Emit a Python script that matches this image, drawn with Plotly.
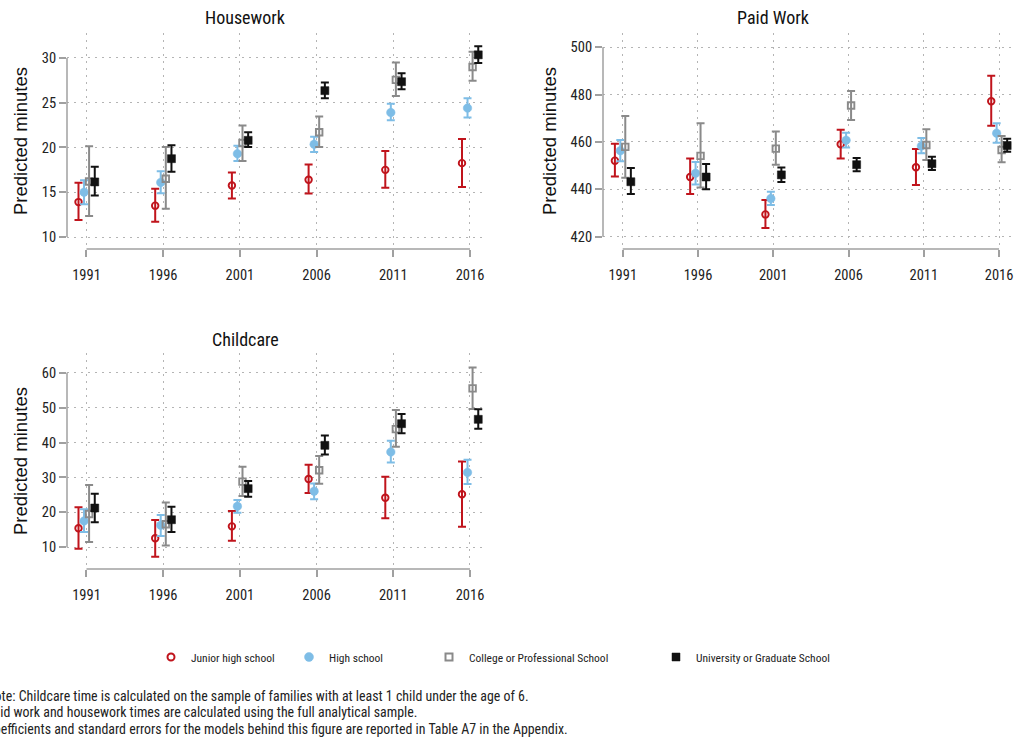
import plotly.graph_objects as go

# ---------------- data ----------------
years = [1991, 1996, 2001, 2006, 2011, 2016]
groups = ["Junior high school", "High school", "College or Professional School", "University or Graduate School"]

# Housework
hw_junior = [13.9, 13.5, 15.75, 16.4, 17.5, 18.25]
hw_junior_lo = [11.9, 11.7, 14.3, 14.85, 15.5, 15.6]
hw_junior_hi = [16.05, 15.4, 17.2, 18.1, 19.6, 20.95]
hw_high = [15.0, 16.1, 19.3, 20.35, 23.9, 24.4]
hw_high_lo = [13.65, 14.9, 18.5, 19.5, 23.05, 23.35]
hw_high_hi = [16.35, 17.35, 20.2, 21.2, 24.9, 25.5]
hw_college = [16.2, 16.5, 20.5, 21.7, 27.55, 29.0]
hw_college_lo = [12.35, 13.15, 18.5, 20.05, 25.75, 27.45]
hw_college_hi = [20.15, 20.05, 22.45, 23.45, 29.5, 30.7]
hw_univ = [16.15, 18.75, 20.8, 26.35, 27.35, 30.35]
hw_univ_lo = [14.65, 17.3, 20.05, 25.5, 26.5, 29.45]
hw_univ_hi = [17.85, 20.25, 21.7, 27.25, 28.3, 31.3]

# Paid work
pw_junior = [452.1, 445.2, 429.4, 459.0, 449.3, 477.2]
pw_junior_lo = [445.4, 438.0, 423.7, 453.0, 441.8, 466.8]
pw_junior_hi = [459.2, 453.0, 435.5, 465.2, 457.0, 488.0]
pw_high = [456.3, 446.8, 436.1, 460.7, 458.3, 463.7]
pw_high_lo = [451.8, 442.0, 433.4, 457.7, 455.2, 459.7]
pw_high_hi = [460.8, 451.5, 439.0, 463.9, 461.7, 467.9]
pw_college = [457.9, 454.1, 457.2, 475.4, 458.7, 456.6]
pw_college_lo = [444.9, 440.8, 450.4, 469.3, 452.4, 451.4]
pw_college_hi = [471.0, 467.9, 464.4, 481.5, 465.4, 462.5]
pw_univ = [443.2, 445.2, 446.1, 450.4, 450.8, 458.5]
pw_univ_lo = [438.0, 440.0, 443.1, 447.6, 448.2, 455.9]
pw_univ_hi = [449.0, 450.7, 449.2, 453.2, 453.8, 461.4]

# Childcare
cc_junior = [15.45, 12.6, 16.0, 29.55, 24.2, 25.2]
cc_junior_lo = [9.6, 7.3, 11.9, 25.55, 18.3, 15.9]
cc_junior_hi = [21.45, 17.8, 20.4, 33.65, 30.2, 34.6]
cc_high = [17.55, 16.3, 21.75, 26.05, 37.3, 31.45]
cc_high_lo = [14.4, 13.25, 19.9, 23.75, 34.25, 28.15]
cc_high_hi = [20.9, 19.25, 23.55, 28.3, 40.5, 35.1]
cc_college = [19.55, 16.6, 28.8, 32.05, 43.85, 55.5]
cc_college_lo = [11.5, 10.5, 24.7, 28.2, 38.8, 49.6]
cc_college_hi = [27.85, 22.8, 33.1, 36.15, 49.3, 61.5]
cc_univ = [21.25, 17.9, 26.8, 39.2, 45.4, 46.65]
cc_univ_lo = [17.15, 14.4, 24.5, 36.55, 42.65, 43.95]
cc_univ_hi = [25.35, 21.65, 29.0, 42.05, 48.15, 49.5]

notes = [
    "Note: Childcare time is calculated on the sample of families with at least 1 child under the age of 6.",
    "Paid work and housework times are calculated using the full analytical sample.",
    "Coefficients and standard errors for the models behind this figure are reported in Table A7 in the Appendix.",
]

# ---------------- styling ----------------
W, H = 1014, 742
NARROW = "Liberation Sans Narrow, Arial Narrow, Roboto Condensed, DejaVu Sans Condensed, sans-serif"
REG = "Liberation Sans, Arial, sans-serif"
offsets = [-0.52, -0.16, 0.17, 0.54]
colors = ["#c0141c", "#7ebde6", "#8a8a8a", "#111111"]
symbols = ["circle-open", "circle", "square-open", "square"]
sizes = [6.5, 8.5, 6.5, 8]
line_w = [1.9, 0.5, 1.9, 0.5]
legend_sizes = [7, 9, 7, 8]
legend_x_px = [151, 289, 429, 656]
GRID = dict(showgrid=True, gridcolor="#b4b4b4", griddash="1.5px,5.5px", gridwidth=1.2)

panels = [
    dict(name="Housework", xa="x", ya="y",
         vals=[(hw_junior, hw_junior_lo, hw_junior_hi), (hw_high, hw_high_lo, hw_high_hi),
               (hw_college, hw_college_lo, hw_college_hi), (hw_univ, hw_univ_lo, hw_univ_hi)],
         xpx=(67, 487), ypx=(33, 249), xr=[1989.73, 2017.11], yr=[8.66, 32.79],
         yticks=[10, 15, 20, 25, 30], title_xy=(245, 18)),
    dict(name="Paid Work", xa="x2", ya="y2",
         vals=[(pw_junior, pw_junior_lo, pw_junior_hi), (pw_high, pw_high_lo, pw_high_hi),
               (pw_college, pw_college_lo, pw_college_hi), (pw_univ, pw_univ_lo, pw_univ_hi)],
         xpx=(603, 1012), ypx=(33, 249), xr=[1989.69, 2016.86], yr=[414.8, 506.0],
         yticks=[420, 440, 460, 480, 500], title_xy=(773, 18)),
    dict(name="Childcare", xa="x3", ya="y3",
         vals=[(cc_junior, cc_junior_lo, cc_junior_hi), (cc_high, cc_high_lo, cc_high_hi),
               (cc_college, cc_college_lo, cc_college_hi), (cc_univ, cc_univ_lo, cc_univ_hi)],
         xpx=(67, 487), ypx=(353, 569), xr=[1989.73, 2017.11], yr=[3.79, 65.64],
         yticks=[10, 20, 30, 40, 50, 60], title_xy=(245, 339)),
]

fig = go.Figure()
layout = dict(
    width=W, height=H, margin=dict(l=0, r=0, t=0, b=0),
    paper_bgcolor="white", plot_bgcolor="white",
    font=dict(family=NARROW, size=14, color="#222222"),
    showlegend=True,
)
annotations = []
shapes = []

for pi, p in enumerate(panels):
    for gi, g in enumerate(groups):
        pt, lo, hi = p["vals"][gi]
        xs = [y + offsets[gi] for y in years]
        fig.add_trace(go.Scatter(
            x=xs, y=pt, mode="markers", name=g,
            xaxis=p["xa"], yaxis=p["ya"],
            showlegend=False,
            marker=dict(symbol=symbols[gi], size=sizes[gi], color=colors[gi],
                        line=dict(width=line_w[gi], color=colors[gi])),
            error_y=dict(type="data", symmetric=False,
                         array=[h - v for h, v in zip(hi, pt)],
                         arrayminus=[v - l for v, l in zip(pt, lo)],
                         color=colors[gi], thickness=2, width=4),
            hoverinfo="x+y",
        ))
    suffix = "" if pi == 0 else str(pi + 1)
    x0, x1 = p["xpx"]
    ytop, ybot = p["ypx"]
    layout["xaxis" + suffix] = dict(
        domain=[x0 / W, x1 / W], range=p["xr"], anchor=p["ya"],
        tickmode="array", tickvals=years, ticktext=[str(y) for y in years],
        ticks="outside", ticklen=7, tickwidth=1.5, tickcolor="#a0a0a0",
        showline=False, zeroline=False, **GRID,
        tickfont=dict(family=NARROW, size=14.5, color="#222222"),
        ticklabelstandoff=6, fixedrange=True,
    )
    layout["yaxis" + suffix] = dict(
        domain=[1 - ybot / H, 1 - ytop / H], range=p["yr"], anchor=p["xa"],
        tickmode="array", tickvals=p["yticks"],
        ticks="outside", ticklen=7, tickwidth=1.5, tickcolor="#a0a0a0",
        showline=False, zeroline=False, **GRID,
        tickfont=dict(family=NARROW, size=14.5, color="#222222"),
        title=dict(text="Predicted minutes", font=dict(family=REG, size=18.5, color="#111111"), standoff=9),
        fixedrange=True,
    )
    # Stata-style axis lines spanning only the tick range
    shapes.append(dict(type="line", xref=p["xa"], yref=p["ya"] + " domain",
                       x0=years[0], x1=years[-1], y0=0, y1=0,
                       line=dict(color="#a0a0a0", width=1.5), layer="above"))
    shapes.append(dict(type="line", xref=p["xa"] + " domain", yref=p["ya"],
                       x0=0, x1=0, y0=p["yticks"][0], y1=p["yticks"][-1],
                       line=dict(color="#a0a0a0", width=1.5), layer="above"))
    tx, ty = p["title_xy"]
    annotations.append(dict(text=p["name"], x=tx / W, y=1 - ty / H, xref="paper", yref="paper",
                            xanchor="center", yanchor="middle", showarrow=False,
                            font=dict(family=NARROW, size=18, color="#111111")))

# legend-only traces, one legend box per group so the entries sit where the original's do
for gi, g in enumerate(groups):
    lname = "legend" if gi == 0 else "legend%d" % (gi + 1)
    fig.add_trace(go.Scatter(
        x=[None], y=[None], mode="markers", name=g, xaxis="x", yaxis="y",
        marker=dict(symbol=symbols[gi], size=legend_sizes[gi], color=colors[gi],
                    line=dict(width=2 if "open" in symbols[gi] else 0.5, color=colors[gi])),
        showlegend=True, hoverinfo="skip", legend=lname,
    ))
    layout[lname] = dict(orientation="h", x=legend_x_px[gi] / W, y=1 - 657 / H,
                         xanchor="left", yanchor="middle",
                         font=dict(family=NARROW, size=11.5, color="#222222"),
                         itemwidth=30, bgcolor="rgba(0,0,0,0)")

for i, t in enumerate(notes):
    annotations.append(dict(text=t, x=-16 / W, y=1 - [696, 712, 729][i] / H, xref="paper", yref="paper",
                            xanchor="left", yanchor="middle", showarrow=False, align="left",
                            font=dict(family=NARROW, size=13.9, color="#222222")))

layout["annotations"] = annotations
layout["shapes"] = shapes
fig.update_layout(**layout)

fig.write_html("out.html", config={"displayModeBar": False},
               post_script="document.body.style.margin='0px';")
